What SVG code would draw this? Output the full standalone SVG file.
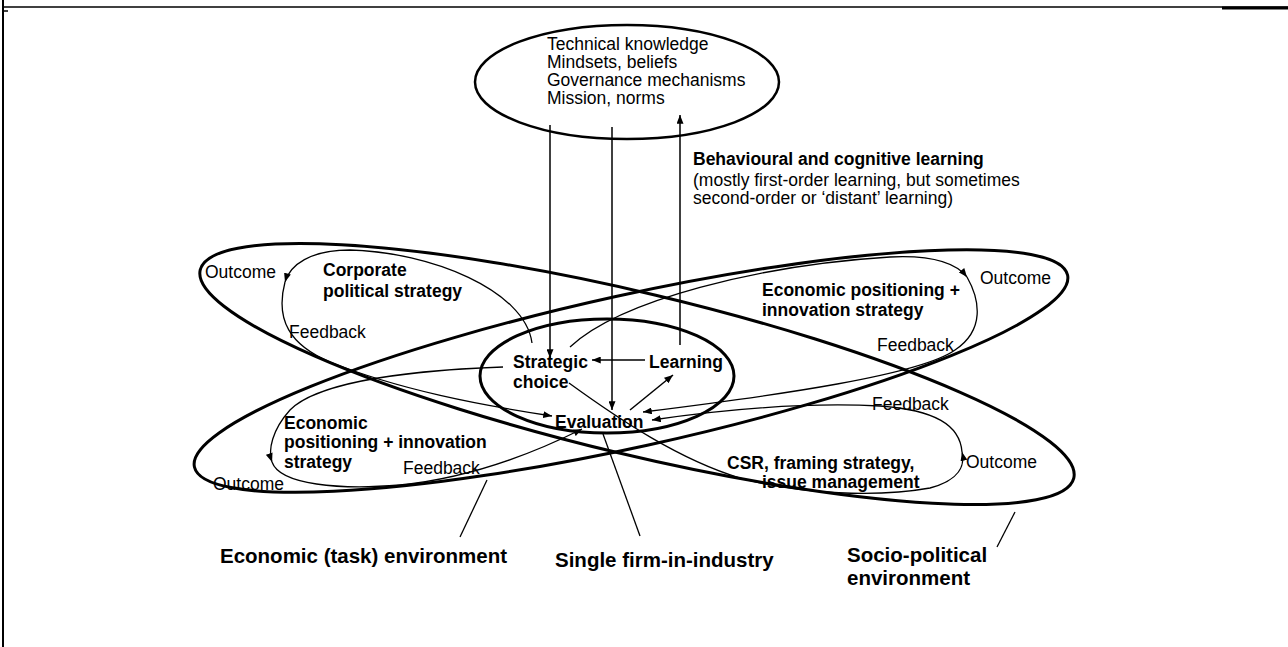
<svg xmlns="http://www.w3.org/2000/svg" width="1288" height="647" viewBox="0 0 1288 647">
<defs>
<marker id="ah" viewBox="0 0 10 8" refX="10" refY="4" markerWidth="9" markerHeight="7" markerUnits="userSpaceOnUse" orient="auto">
<path d="M0,0 L10,4 L0,8 Z" fill="#000"/>
</marker>
</defs>
<style>
.t{font-family:"Liberation Sans",Arial,sans-serif;font-size:17.5px;fill:#000}
.b{font-weight:bold}
.big{font-family:"Liberation Sans",Arial,sans-serif;font-size:20.5px;font-weight:bold;fill:#000}
.env{fill:none;stroke:#000;stroke-width:3}
.thin{fill:none;stroke:#000;stroke-width:1.3}
.arr{fill:none;stroke:#000;stroke-width:1.5}
</style>
<rect width="1288" height="647" fill="#fff"/>
<g id="frame">
<line x1="3" y1="0" x2="3" y2="647" stroke="#000" stroke-width="2"/>
<line x1="3" y1="7" x2="1288" y2="7" stroke="#000" stroke-width="1.5"/>
<line x1="1222" y1="8" x2="1288" y2="8" stroke="#000" stroke-width="3"/>
<line x1="3" y1="11" x2="8" y2="11" stroke="#000" stroke-width="1.5"/>
</g>
<g id="env-socio">
<ellipse class="env" cx="637" cy="374" rx="449" ry="81" transform="rotate(13.4 637 374)"/>
</g>
<g id="env-economic">
<ellipse class="env" cx="631" cy="371" rx="447" ry="76" transform="rotate(-12.4 631 371)"/>
</g>
<g id="knowledge">
<ellipse fill="none" stroke="#000" stroke-width="2.5" cx="627" cy="82" rx="152" ry="57"/>
<text class="t" x="547" y="50">Technical knowledge</text>
<text class="t" x="547" y="68">Mindsets, beliefs</text>
<text class="t" x="547" y="86">Governance mechanisms</text>
<text class="t" x="547" y="104">Mission, norms</text>
</g>
<g id="firm">
<ellipse fill="none" stroke="#000" stroke-width="3" cx="607" cy="376" rx="127" ry="57"/>
<text class="t b" x="513" y="368">Strategic</text>
<text class="t b" x="513" y="388">choice</text>
<text class="t b" x="649" y="368">Learning</text>
<text class="t b" x="555" y="428">Evaluation</text>
</g>
<g id="learning-label">
<text class="t b" x="693" y="165">Behavioural and cognitive learning</text>
<text class="t" x="693" y="186">(mostly first-order learning, but sometimes</text>
<text class="t" x="693" y="204">second-order or ‘distant’ learning)</text>
</g>
<g id="corporate">
<text class="t" x="205" y="278">Outcome</text>
<text class="t b" x="323" y="276">Corporate</text>
<text class="t b" x="323" y="297">political strategy</text>
<text class="t" x="289" y="338">Feedback</text>
</g>
<g id="econ-right">
<text class="t b" x="762" y="296">Economic positioning +</text>
<text class="t b" x="762" y="316">innovation strategy</text>
<text class="t" x="980" y="284">Outcome</text>
<text class="t" x="877" y="351">Feedback</text>
</g>
<g id="econ-left">
<text class="t b" x="284" y="429">Economic</text>
<text class="t b" x="284" y="448">positioning + innovation</text>
<text class="t b" x="284" y="468">strategy</text>
<text class="t" x="213" y="490">Outcome</text>
<text class="t" x="403" y="474">Feedback</text>
</g>
<g id="csr">
<text class="t b" x="727" y="469">CSR, framing strategy,</text>
<text class="t b" x="762" y="488">issue management</text>
<text class="t" x="966" y="468">Outcome</text>
<text class="t" x="872" y="410">Feedback</text>
</g>
<g id="labels">
<text class="big" x="220" y="563">Economic (task) environment</text>
<text class="big" x="555" y="567">Single firm-in-industry</text>
<text class="big" x="847" y="562">Socio-political</text>
<text class="big" x="847" y="585">environment</text>
</g>
<g id="connectors">
<line class="arr" x1="550" y1="125" x2="550" y2="358" marker-end="url(#ah)"/>
<line class="arr" x1="612" y1="127" x2="612" y2="410" marker-end="url(#ah)"/>
<line class="arr" x1="680" y1="345" x2="680" y2="115" marker-end="url(#ah)"/>
<line class="arr" x1="645" y1="360" x2="592" y2="360" marker-end="url(#ah)"/>
<line class="arr" x1="630" y1="410" x2="673" y2="375" marker-end="url(#ah)"/>
<path class="thin" d="M532,343 C525,290 430,252 350,250 C310,250 290,265 285,282" marker-end="url(#ah)"/>
<path class="thin" d="M285,282 C275,320 290,345 330,362 C400,390 480,405 552,416" marker-end="url(#ah)"/>
<path class="thin" d="M570,347 C620,300 760,265 890,257 C930,255 955,262 967,277" marker-end="url(#ah)"/>
<path class="thin" d="M967,277 C980,300 985,330 955,350 C920,375 780,395 643,412" marker-end="url(#ah)"/>
<path class="thin" d="M503,367 C420,370 320,380 290,410 C272,430 268,450 272,462" marker-end="url(#ah)"/>
<path class="thin" d="M272,462 C280,485 340,490 400,485 C470,478 530,455 582,429" marker-end="url(#ah)"/>
<path class="thin" d="M569,383 C620,420 680,460 740,478 C800,495 880,497 930,488 C960,480 965,465 962,452" marker-end="url(#ah)"/>
<path class="thin" d="M962,452 C960,425 935,410 880,406 C800,402 720,410 652,420" marker-end="url(#ah)"/>
<line class="thin" x1="460" y1="537" x2="487" y2="480"/>
<line class="thin" x1="640" y1="536" x2="603" y2="434"/>
<line class="thin" x1="997" y1="547" x2="1015" y2="512"/>
</g>
</svg>
